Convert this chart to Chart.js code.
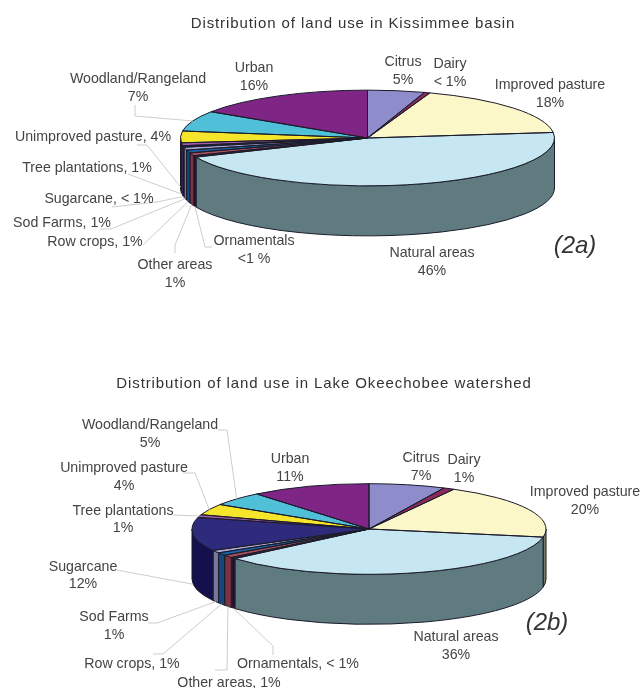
<!DOCTYPE html>
<html>
<head>
<meta charset="utf-8">
<title>Land use distribution</title>
<script src="https://cdn.jsdelivr.net/npm/chart.js@4/dist/chart.umd.min.js"></script>
<style>
    html, body { margin: 0; padding: 0; background: #fff; }
    body { position: relative; width: 643px; height: 688px; overflow: hidden; }
    canvas { position: absolute; left: 0; }
    #basin { top: 0; }
    #watershed { top: 344px; }
</style>
</head>
<body>
<canvas id="basin" width="643" height="344"></canvas>
<canvas id="watershed" width="643" height="344"></canvas>
<script>
const categories = [
    'Citrus', 'Dairy', 'Improved pasture', 'Natural areas', 'Ornamentals', 'Other areas', 'Row crops',
    'Sod Farms', 'Sugarcane', 'Tree plantations', 'Unimproved pasture', 'Woodland/Rangeland', 'Urban',
];
// "< 1%" slices are taken as 0.5
const basinValues = [5, 0.5, 18, 46, 0.5, 1, 1, 1, 0.5, 1, 4, 7, 16];
const watershedValues = [7, 1, 20, 36, 0.5, 1, 1, 1, 12, 1, 4, 5, 11];

const sliceColors = [
    '#8f8ccb', '#8a2a5c', '#fbf7c9', '#c6e7f1', '#4f2150', '#a8505a', '#1c62a8',
    '#a9a8d4', '#2e2a7c', '#a45bab', '#f5e62c', '#4fc0d8', '#7e2585',
];
const wallColors = [
    '#46446a', '#451530', '#7d7b64', '#5f7b7f', '#2a1030', '#7a3540', '#14487c',
    '#77769c', '#14104e', '#52305a', '#7a7316', '#27606c', '#3f1242',
];

const FONT = '"Liberation Sans", Arial, sans-serif';
const TEXT_COLOR = '#444';
const LEADER_COLOR = '#cdcdcd';
const OUTLINE_COLOR = '#1b1b2b';
const TILT = 0.256;
const DEPTH = 50;

// label blocks: slice index, centre x, line centres y, text lines (page coordinates)
const basinLabels = [
    [0, 403, [62, 80], ['Citrus', '5%']],
    [1, 450, [64, 82], ['Dairy', '< 1%']],
    [2, 550, [85, 103], ['Improved pasture', '18%']],
    [3, 432, [253, 271], ['Natural areas', '46%']],
    [4, 254, [241, 259], ['Ornamentals', '<1 %']],
    [5, 175, [265, 283], ['Other areas', '1%']],
    [6, 95, [242], ['Row crops, 1%']],
    [7, 62, [223], ['Sod Farms, 1%']],
    [8, 99, [199], ['Sugarcane, < 1%']],
    [9, 87, [168], ['Tree plantations, 1%']],
    [10, 93, [137], ['Unimproved pasture, 4%']],
    [11, 138, [79, 97], ['Woodland/Rangeland', '7%']],
    [12, 254, [68, 86], ['Urban', '16%']],
];
const watershedLabels = [
    [0, 421, [458, 476], ['Citrus', '7%']],
    [1, 464, [460, 478], ['Dairy', '1%']],
    [2, 585, [492, 510], ['Improved pasture', '20%']],
    [3, 456, [637, 655], ['Natural areas', '36%']],
    [4, 298, [664], ['Ornamentals, < 1%']],
    [5, 229, [683], ['Other areas, 1%']],
    [6, 132, [664], ['Row crops, 1%']],
    [7, 114, [617, 635], ['Sod Farms', '1%']],
    [8, 83, [567, 584], ['Sugarcane', '12%']],
    [9, 123, [511, 528], ['Tree plantations', '1%']],
    [10, 124, [468, 486], ['Unimproved pasture', '4%']],
    [11, 150, [425, 443], ['Woodland/Rangeland', '5%']],
    [12, 290, [459, 477], ['Urban', '11%']],
];

// leader lines: slice index, how far down the wall they land (0-1), points before the slice
const basinLeaders = [
    [4, 1, [[212, 247], [205, 247]]],
    [5, 1, [[175, 253], [175, 245]]],
    [6, 1, [[143, 245]]],
    [7, 1, [[100, 229], [111, 229]]],
    [8, 1, [[112, 207], [157, 202]]],
    [9, 1, [[128, 174]]],
    [10, 1, [[137, 145], [147, 145]]],
    [11, 0, [[135, 105], [135, 116]]],
];
const watershedLeaders = [
    [4, 1, [[273, 655], [273, 646]]],
    [5, 1, [[215, 670], [227, 670]]],
    [6, 1, [[153, 654], [163, 654]]],
    [7, 1, [[148, 623], [157, 623]]],
    [8, 1, [[117, 570]]],
    [9, 0, [[173, 515]]],
    [10, 0, [[183, 473], [195, 473]]],
    [11, 0, [[218, 430], [227, 430]]],
];

// Squashes the library's pie into a tilted disc and adds the side wall, outlines and labels
const tiltedPie = {
    id: 'tiltedPie',
    beforeDatasetsDraw(chart, args, opts) {
        const ctx = chart.ctx;
        const arcs = chart.getDatasetMeta(0).data;
        const cy = opts.centerY - opts.top;
        ctx.save();
        ctx.lineWidth = 1;
        ctx.strokeStyle = OUTLINE_COLOR;
        arcs.forEach((arc, i) => {
            // only the part of the rim facing the viewer is visible
            const a = Math.max(arc.startAngle, 0);
            const b = Math.min(arc.endAngle, Math.PI);
            if (b <= a) return;
            const rx = arc.outerRadius;
            const ry = rx * TILT;
            ctx.beginPath();
            ctx.ellipse(arc.x, cy, rx, ry, 0, a, b);
            ctx.ellipse(arc.x, cy + DEPTH, rx, ry, 0, b, a, true);
            ctx.closePath();
            ctx.fillStyle = wallColors[i];
            ctx.fill();
            ctx.stroke();
        });
        ctx.restore();

        ctx.save();
        ctx.translate(0, cy);
        ctx.scale(1, TILT);
        ctx.translate(0, -arcs[0].y);
    },
    afterDatasetsDraw(chart, args, opts) {
        const ctx = chart.ctx;
        ctx.restore();

        const arcs = chart.getDatasetMeta(0).data;
        const cy = opts.centerY - opts.top;
        ctx.save();
        ctx.lineWidth = 1;
        ctx.strokeStyle = OUTLINE_COLOR;
        arcs.forEach(arc => {
            const rx = arc.outerRadius;
            ctx.beginPath();
            ctx.moveTo(arc.x, cy);
            ctx.ellipse(arc.x, cy, rx, rx * TILT, 0, arc.startAngle, arc.endAngle);
            ctx.closePath();
            ctx.stroke();
        });
        ctx.restore();

        ctx.save();
        ctx.translate(0, -opts.top);
        ctx.lineWidth = 1;
        ctx.strokeStyle = LEADER_COLOR;
        opts.leaders.forEach(([index, drop, points]) => {
            const arc = arcs[index];
            const mid = (arc.startAngle + arc.endAngle) / 2;
            const rx = arc.outerRadius;
            ctx.beginPath();
            points.forEach(([x, y], n) => (n ? ctx.lineTo(x, y) : ctx.moveTo(x, y)));
            ctx.lineTo(arc.x + rx * Math.cos(mid), opts.centerY + rx * TILT * Math.sin(mid) + drop * DEPTH);
            ctx.stroke();
        });

        ctx.fillStyle = TEXT_COLOR;
        ctx.textAlign = 'center';
        ctx.textBaseline = 'middle';
        ctx.font = `14.2px ${FONT}`;
        opts.labels.forEach(([, x, ys, lines]) => {
            lines.forEach((line, n) => ctx.fillText(line, x, ys[n]));
        });

        ctx.font = `15px ${FONT}`;
        ctx.letterSpacing = '0.9px';
        ctx.fillStyle = '#333';
        ctx.fillText(opts.heading, opts.headingX, opts.headingY);
        ctx.letterSpacing = '0px';

        ctx.font = `italic 24px ${FONT}`;
        ctx.fillText(opts.tag, opts.tagX, opts.tagY);
        ctx.restore();
    },
};

function createTiltedPie(canvas, values, radius, padLeft, settings) {
    return new Chart(canvas, {
        type: 'pie',
        data: {
            labels: categories,
            datasets: [{
                data: values,
                backgroundColor: sliceColors,
                borderWidth: 0,
                radius: radius,
                clip: false,
            }],
        },
        options: {
            responsive: false,
            animation: false,
            events: [],
            layout: { padding: { left: padLeft } },
            plugins: {
                legend: { display: false },
                title: { display: false },
                tooltip: { enabled: false },
                tiltedPie: settings,
            },
        },
        plugins: [tiltedPie],
    });
}

createTiltedPie(document.getElementById('basin'), basinValues, 187, 92, {
    top: 0,
    centerY: 138,
    labels: basinLabels,
    leaders: basinLeaders,
    heading: 'Distribution of land use in Kissimmee basin',
    headingX: 353,
    headingY: 24,
    tag: '(2a)',
    tagX: 575,
    tagY: 246,
});

createTiltedPie(document.getElementById('watershed'), watershedValues, 177, 95, {
    top: 344,
    centerY: 529,
    labels: watershedLabels,
    leaders: watershedLeaders,
    heading: 'Distribution of land use in Lake Okeechobee watershed',
    headingX: 324,
    headingY: 384,
    tag: '(2b)',
    tagX: 547,
    tagY: 623,
});
</script>
</body>
</html>
